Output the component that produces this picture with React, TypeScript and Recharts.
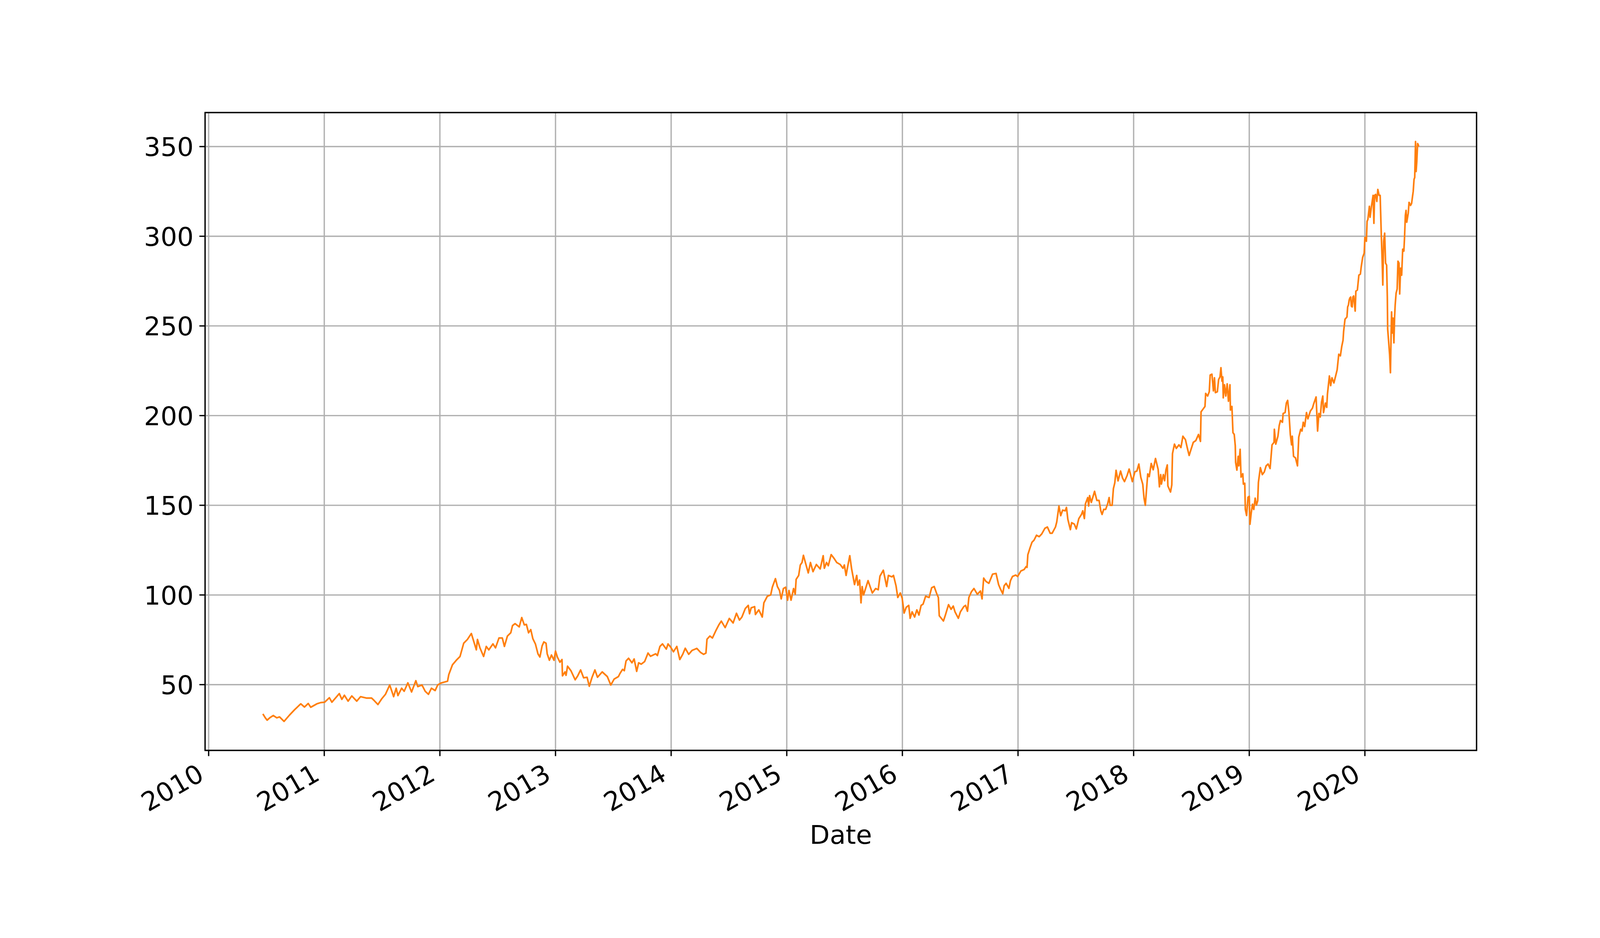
import { LineChart, Line, XAxis, YAxis, CartesianGrid, ReferenceArea } from 'recharts'

// close price by decimal year
const p2010_11: [number, number][] = [
  [2010.469, 33.7], [2010.49, 31.5], [2010.506, 30.2], [2010.53, 31.6], [2010.559, 32.8], [2010.59, 31.5],
  [2010.613, 32.0], [2010.652, 29.5], [2010.699, 33.0], [2010.743, 36.0], [2010.797, 39.3], [2010.829, 37.5],
  [2010.861, 39.5], [2010.883, 37.4], [2010.936, 39.3], [2010.97, 40.0],
  [2011.003, 40.2], [2011.044, 42.7], [2011.066, 40.2], [2011.13, 45.0], [2011.152, 41.8], [2011.174, 44.1],
  [2011.206, 40.8], [2011.238, 43.7], [2011.281, 40.8], [2011.314, 43.3], [2011.367, 42.5], [2011.41, 42.5],
  [2011.432, 41.1], [2011.464, 38.9], [2011.497, 42.1], [2011.529, 44.6], [2011.566, 49.8], [2011.6, 43.3],
  [2011.622, 48.0], [2011.637, 43.9], [2011.669, 48.0], [2011.691, 46.3], [2011.723, 51.0], [2011.755, 45.9],
  [2011.792, 52.2], [2011.809, 48.9], [2011.845, 49.8], [2011.873, 46.3], [2011.901, 44.6], [2011.927, 48.0],
  [2011.959, 46.7], [2011.981, 49.8],
]

const p2012_13: [number, number][] = [
  [2012.013, 51.0], [2012.066, 51.9], [2012.077, 55.6], [2012.109, 61.1], [2012.142, 63.6], [2012.174, 65.7],
  [2012.206, 73.1], [2012.238, 75.2], [2012.272, 78.5], [2012.315, 69.4], [2012.325, 75.2], [2012.346, 70.6],
  [2012.378, 65.7], [2012.401, 71.3], [2012.423, 69.4], [2012.459, 72.7], [2012.481, 70.5], [2012.511, 76.0],
  [2012.54, 76.0], [2012.558, 71.3], [2012.584, 77.1], [2012.613, 78.9], [2012.628, 82.9], [2012.65, 84.0],
  [2012.686, 82.2], [2012.708, 87.4], [2012.73, 83.3], [2012.748, 83.6], [2012.767, 78.9], [2012.786, 80.7],
  [2012.804, 75.6], [2012.826, 72.7], [2012.848, 67.2], [2012.865, 65.4], [2012.884, 71.6], [2012.899, 73.8],
  [2012.918, 73.1], [2012.928, 67.2], [2012.947, 63.6], [2012.965, 66.5], [2012.987, 63.6],
  [2013.0, 68.7], [2013.016, 65.4], [2013.038, 62.5], [2013.056, 64.0], [2013.06, 54.9], [2013.082, 57.1],
  [2013.091, 55.2], [2013.104, 60.3], [2013.133, 57.8], [2013.17, 52.7], [2013.192, 54.9], [2013.217, 58.2],
  [2013.243, 53.8], [2013.273, 54.1], [2013.292, 49.1], [2013.316, 54.1], [2013.341, 58.2], [2013.363, 54.1],
  [2013.404, 57.1], [2013.448, 54.5], [2013.478, 49.8], [2013.507, 53.1], [2013.544, 54.5], [2013.558, 56.3],
  [2013.58, 58.5], [2013.595, 57.8], [2013.61, 63.2], [2013.632, 64.7], [2013.661, 62.2], [2013.68, 64.3],
  [2013.702, 57.4], [2013.719, 62.2], [2013.741, 61.4], [2013.771, 62.9], [2013.8, 67.6], [2013.822, 65.8],
  [2013.866, 67.2], [2013.881, 66.2], [2013.903, 71.3], [2013.925, 72.7], [2013.958, 69.8], [2013.973, 72.7],
  [2013.996, 70.9],
]

const p2014_15: [number, number][] = [
  [2014.02, 68.3], [2014.049, 71.3], [2014.075, 64.0], [2014.1, 66.9], [2014.122, 70.3], [2014.152, 66.9],
  [2014.181, 69.1], [2014.222, 70.2], [2014.254, 68.0], [2014.281, 66.9], [2014.301, 67.6], [2014.31, 75.3],
  [2014.335, 77.1], [2014.357, 76.0], [2014.386, 80.0], [2014.415, 83.6], [2014.434, 85.4], [2014.467, 81.8],
  [2014.503, 86.9], [2014.536, 84.4], [2014.565, 89.8], [2014.591, 86.0], [2014.612, 87.7], [2014.641, 92.4],
  [2014.667, 94.2], [2014.678, 89.5], [2014.692, 92.8], [2014.722, 93.5], [2014.729, 89.1], [2014.758, 91.7],
  [2014.788, 87.7], [2014.802, 95.6], [2014.832, 99.3], [2014.861, 100.0], [2014.875, 104.3], [2014.902, 109.1],
  [2014.919, 104.7], [2014.937, 102.5], [2014.952, 97.8], [2014.971, 103.6], [2014.99, 104.3],
  [2015.007, 97.1], [2015.019, 102.5], [2015.037, 97.1], [2015.059, 103.6], [2015.073, 100.4], [2015.081, 108.7],
  [2015.103, 110.9], [2015.117, 116.7], [2015.132, 118.1], [2015.144, 122.1], [2015.161, 118.1], [2015.186, 112.3],
  [2015.205, 118.1], [2015.227, 113.0], [2015.256, 117.0], [2015.289, 114.5], [2015.315, 121.9], [2015.325, 114.9],
  [2015.344, 118.1], [2015.359, 116.3], [2015.384, 122.5], [2015.41, 120.3], [2015.432, 118.1], [2015.462, 117.0],
  [2015.486, 114.9], [2015.498, 116.7], [2015.513, 110.9], [2015.527, 115.9], [2015.545, 121.9], [2015.561, 114.5],
  [2015.586, 105.8], [2015.605, 110.9], [2015.615, 105.4], [2015.63, 108.3], [2015.642, 95.6], [2015.652, 104.7],
  [2015.664, 100.0], [2015.703, 108.0], [2015.74, 101.1], [2015.769, 103.6], [2015.791, 102.9], [2015.806, 110.5],
  [2015.835, 113.8], [2015.864, 104.7], [2015.879, 110.9], [2015.908, 110.1], [2015.923, 110.9], [2015.945, 105.1],
  [2015.96, 98.6], [2015.982, 101.1], [2015.998, 98.2],
]

const p2016_17: [number, number][] = [
  [2016.015, 89.9], [2016.033, 93.1], [2016.055, 94.2], [2016.067, 87.0], [2016.084, 90.6], [2016.106, 87.7],
  [2016.125, 91.7], [2016.143, 88.8], [2016.162, 94.2], [2016.179, 94.9], [2016.201, 99.3], [2016.231, 98.6],
  [2016.253, 104.0], [2016.275, 104.7], [2016.297, 100.7], [2016.311, 98.6], [2016.319, 88.4], [2016.355, 85.5],
  [2016.37, 88.4], [2016.399, 94.6], [2016.421, 92.0], [2016.44, 93.8], [2016.455, 90.6], [2016.484, 87.0],
  [2016.502, 90.6], [2016.531, 93.5], [2016.546, 94.2], [2016.563, 90.9], [2016.575, 98.6], [2016.597, 101.8],
  [2016.619, 103.6], [2016.648, 100.4], [2016.675, 102.2], [2016.689, 97.8], [2016.703, 109.4], [2016.722, 107.6],
  [2016.748, 106.5], [2016.78, 111.6], [2016.81, 112.0], [2016.832, 105.8], [2016.846, 103.6], [2016.868, 100.7],
  [2016.88, 105.1], [2016.897, 106.5], [2016.921, 103.7], [2016.935, 108.0], [2016.952, 110.3], [2016.98, 111.1],
  [2016.997, 110.3],
  [2017.025, 113.4], [2017.053, 114.2], [2017.07, 115.8], [2017.078, 115.4], [2017.085, 122.4], [2017.104, 126.3],
  [2017.121, 129.4], [2017.138, 130.5], [2017.16, 133.3], [2017.183, 132.5], [2017.205, 134.0], [2017.233, 137.2],
  [2017.254, 137.9], [2017.278, 134.4], [2017.295, 134.4], [2017.324, 137.9], [2017.335, 140.7], [2017.354, 149.6],
  [2017.369, 144.2], [2017.386, 147.3], [2017.408, 146.9], [2017.419, 148.8], [2017.431, 142.2], [2017.453, 136.4],
  [2017.464, 140.3], [2017.487, 139.5], [2017.504, 136.8], [2017.526, 142.6], [2017.549, 144.9], [2017.56, 146.9],
  [2017.574, 142.6], [2017.583, 150.8], [2017.603, 154.3], [2017.611, 149.6], [2017.619, 155.4], [2017.634, 151.6],
  [2017.662, 157.8], [2017.682, 152.7], [2017.701, 152.7], [2017.716, 146.9], [2017.727, 144.9], [2017.741, 147.7],
  [2017.758, 147.7], [2017.775, 150.8], [2017.788, 154.3], [2017.797, 150.0], [2017.814, 150.0], [2017.825, 159.3],
  [2017.837, 162.5], [2017.848, 169.5], [2017.865, 163.6], [2017.887, 169.1], [2017.904, 165.2], [2017.921, 163.2],
  [2017.944, 166.7], [2017.961, 170.2], [2017.989, 163.2],
]

const p2018_19: [number, number][] = [
  [2018.011, 168.7], [2018.028, 169.1], [2018.045, 173.0], [2018.062, 165.6], [2018.079, 161.7], [2018.09, 153.9],
  [2018.101, 150.0], [2018.122, 167.5], [2018.135, 166.0], [2018.152, 173.3], [2018.169, 169.8], [2018.189, 176.1],
  [2018.212, 170.0], [2018.223, 160.3], [2018.234, 167.1], [2018.24, 161.8], [2018.257, 167.1], [2018.268, 163.7],
  [2018.279, 169.6], [2018.291, 172.5], [2018.296, 160.8], [2018.319, 157.4], [2018.33, 161.3], [2018.336, 178.8],
  [2018.353, 184.1], [2018.369, 181.7], [2018.392, 183.7], [2018.409, 182.2], [2018.426, 188.5], [2018.448, 186.6],
  [2018.465, 181.7], [2018.48, 177.8], [2018.499, 181.7], [2018.516, 185.1], [2018.538, 186.1], [2018.561, 189.5],
  [2018.578, 185.6], [2018.583, 202.1], [2018.6, 203.6], [2018.617, 205.1], [2018.623, 212.4], [2018.64, 210.9],
  [2018.654, 213.3], [2018.662, 222.6], [2018.677, 223.1], [2018.69, 213.8], [2018.699, 221.1], [2018.707, 212.8],
  [2018.724, 213.3], [2018.735, 220.1], [2018.747, 221.6], [2018.755, 226.7], [2018.764, 219.2], [2018.771, 221.6],
  [2018.775, 209.9], [2018.786, 217.2], [2018.797, 210.9], [2018.809, 217.7], [2018.82, 208.0], [2018.833, 217.2],
  [2018.837, 203.1], [2018.85, 205.1], [2018.859, 190.5], [2018.87, 189.5], [2018.879, 183.2], [2018.882, 173.9],
  [2018.893, 169.6], [2018.904, 177.3], [2018.91, 172.0], [2018.921, 181.2], [2018.929, 165.7], [2018.944, 167.6],
  [2018.949, 161.8], [2018.961, 162.3], [2018.966, 147.7], [2018.977, 144.3], [2018.989, 154.5],
  [2019.0, 155.0], [2019.006, 139.4], [2019.017, 145.7], [2019.028, 150.6], [2019.039, 147.7], [2019.051, 154.0],
  [2019.062, 150.1], [2019.073, 152.5], [2019.079, 162.7], [2019.096, 171.0], [2019.113, 167.1], [2019.13, 168.6],
  [2019.146, 172.0], [2019.163, 173.0], [2019.18, 170.5], [2019.197, 183.7], [2019.214, 185.1], [2019.217, 192.4],
  [2019.229, 184.1], [2019.248, 188.5], [2019.259, 194.4], [2019.27, 197.3], [2019.287, 196.3], [2019.293, 201.2],
  [2019.31, 201.7], [2019.321, 207.0], [2019.332, 208.5], [2019.343, 201.7], [2019.355, 189.5], [2019.366, 183.7],
  [2019.372, 188.5], [2019.383, 177.3], [2019.4, 176.4], [2019.417, 172.0], [2019.428, 188.0], [2019.445, 192.4],
  [2019.456, 191.4], [2019.467, 196.3], [2019.479, 193.9], [2019.495, 201.7], [2019.507, 198.2], [2019.529, 202.6],
  [2019.546, 204.1], [2019.557, 206.5], [2019.578, 210.4], [2019.591, 191.4], [2019.602, 201.2], [2019.614, 199.2],
  [2019.625, 207.5], [2019.636, 210.9], [2019.642, 201.7], [2019.659, 207.0], [2019.67, 204.6], [2019.676, 211.9],
  [2019.693, 222.1], [2019.704, 216.7], [2019.715, 221.1], [2019.732, 218.2], [2019.749, 222.6], [2019.76, 225.5],
  [2019.774, 234.2], [2019.788, 233.3], [2019.8, 238.6], [2019.811, 242.0], [2019.816, 246.9], [2019.828, 253.7],
  [2019.845, 255.0], [2019.851, 260.6], [2019.858, 261.7], [2019.864, 264.4], [2019.87, 265.6], [2019.877, 266.1],
  [2019.883, 261.1], [2019.89, 260.6], [2019.896, 266.1], [2019.903, 266.7], [2019.916, 258.3], [2019.922, 269.4],
  [2019.935, 270.0], [2019.948, 278.3], [2019.961, 278.9], [2019.968, 282.8], [2019.981, 288.3], [2019.994, 290.6],
]

const p2020: [number, number][] = [
  [2020.0, 299.4], [2020.013, 297.2], [2020.019, 308.3], [2020.026, 309.4], [2020.039, 316.7], [2020.045, 310.6],
  [2020.058, 317.2], [2020.071, 322.8], [2020.078, 307.2], [2020.084, 322.8], [2020.093, 323.3], [2020.103, 319.4],
  [2020.112, 326.1], [2020.123, 322.8], [2020.132, 322.8], [2020.142, 300.6], [2020.149, 287.2], [2020.155, 272.8],
  [2020.162, 297.2], [2020.171, 301.7], [2020.179, 285.0], [2020.188, 283.9], [2020.194, 266.1], [2020.197, 248.3],
  [2020.205, 241.7], [2020.214, 233.9], [2020.221, 223.9], [2020.227, 246.1], [2020.231, 257.8], [2020.236, 246.1],
  [2020.243, 254.4], [2020.251, 240.6], [2020.257, 255.0], [2020.262, 261.7], [2020.27, 268.3], [2020.279, 270.6],
  [2020.286, 286.1], [2020.295, 285.0], [2020.301, 267.8], [2020.309, 282.2], [2020.318, 278.3], [2020.327, 292.8],
  [2020.337, 291.7], [2020.343, 299.4], [2020.35, 311.7], [2020.356, 314.4], [2020.362, 307.8], [2020.375, 312.8],
  [2020.382, 318.9], [2020.395, 317.2], [2020.404, 318.3], [2020.412, 322.2], [2020.418, 325.0], [2020.425, 331.7],
  [2020.431, 332.8], [2020.438, 352.8], [2020.443, 336.1], [2020.449, 341.7], [2020.456, 351.7], [2020.461, 351.1],
  [2020.466, 350.0],
]

const yearTicks = [2010, 2011, 2012, 2013, 2014, 2015, 2016, 2017, 2018, 2019, 2020]
const priceTicks = [50, 100, 150, 200, 250, 300, 350]

const data = [...p2010_11, ...p2012_13, ...p2014_15, ...p2016_17, ...p2018_19, ...p2020]
  .map(([date, close]) => ({ date, close }))

// matplotlib style 5% margins
const dates = data.map(d => d.date)
const closes = data.map(d => d.close)
const xPad = (Math.max(...dates) - Math.min(...dates)) * 0.05
const yPad = (Math.max(...closes) - Math.min(...closes)) * 0.05
const xDom: [number, number] = [Math.min(...dates) - xPad, Math.max(...dates) + xPad]
const yDom: [number, number] = [Math.min(...closes) - yPad, Math.max(...closes) + yPad]

const FONT = 'DejaVu Sans, sans-serif'
const FS = 66.7
const LW = 3.33

function YearTick({ x, y, payload }: any) {
  const tx = x - 7.9, ty = y + 44.2
  return (
    <text x={tx} y={ty} textAnchor='end' fontFamily={FONT} fontSize={FS} fill='#000'
      transform={`rotate(-30, ${tx}, ${ty})`}>{payload.value}</text>
  )
}

function PriceTick({ x, y, payload }: any) {
  return (
    <text x={x} y={y + 24.3} textAnchor='end' fontFamily={FONT} fontSize={FS} fill='#000'>
      {payload.value}
    </text>
  )
}

export default function App() {
  return (
    <div style={{ position: 'absolute', left: 0, top: 0, width: 4200, height: 2400, background: '#fff' }}>
      <LineChart width={4200} height={2400} data={data}
        margin={{ top: 288, right: 420, bottom: 0, left: 0 }}>
        <CartesianGrid stroke='#b0b0b0' strokeWidth={LW} />
        <XAxis dataKey='date' type='number' domain={xDom} allowDataOverflow ticks={yearTicks}
          interval={0} height={480} tickSize={14.6} tickMargin={14.6} axisLine={false}
          tickLine={{ stroke: '#000', strokeWidth: LW }} tick={<YearTick />}
          label={{ value: 'Date', content: () => (
            <text x={2152.5} y={2159} textAnchor='middle' fontFamily={FONT} fontSize={FS} fill='#000'>Date</text>
          ) }} />
        <YAxis type='number' domain={yDom} allowDataOverflow ticks={priceTicks} interval={0}
          width={525} tickSize={14.6} tickMargin={14.6} axisLine={false}
          tickLine={{ stroke: '#000', strokeWidth: LW }} tick={<PriceTick />} />
        <Line type='linear' dataKey='close' stroke='#ff7f0e' strokeWidth={4.17} dot={false}
          strokeLinejoin='round' isAnimationActive={false} />
        <ReferenceArea x1={xDom[0]} x2={xDom[1]} y1={yDom[0]} y2={yDom[1]} ifOverflow='visible'
          fill='none' stroke='#000' strokeWidth={LW} />
      </LineChart>
    </div>
  )
}
